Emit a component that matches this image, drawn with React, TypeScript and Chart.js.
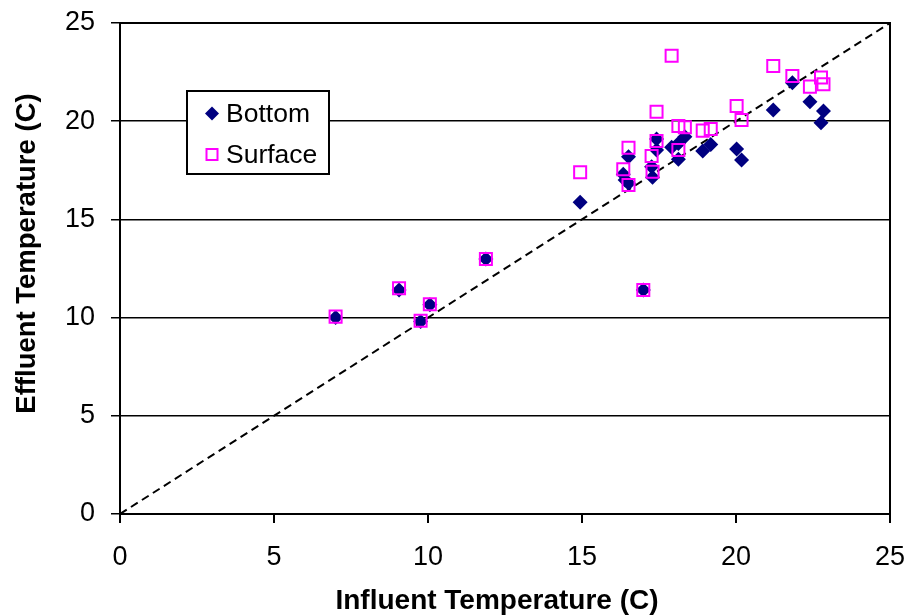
import React, { useEffect, useRef } from "react";
import { Chart, registerables } from "chart.js";

Chart.register(...registerables);

// Influent (x) and effluent (y) temperatures, deg C
const bottomX = [7.0, 9.06, 9.76, 10.06, 11.88, 14.94, 16.34, 16.4, 16.51, 16.51, 16.99, 17.26, 17.29, 17.42, 17.42, 17.91, 18.13, 18.13, 18.34, 18.92, 19.18, 20.02, 20.18, 21.21, 21.83, 22.4, 22.76, 22.84];
const bottomY = [10.0, 11.4, 9.8, 10.65, 12.98, 15.87, 17.3, 17.0, 18.19, 16.84, 11.41, 17.68, 17.14, 19.1, 18.53, 18.67, 18.87, 18.06, 19.21, 18.48, 18.82, 18.58, 18.02, 20.57, 21.96, 20.99, 19.92, 20.52];
const surfaceX = [7.0, 9.06, 9.76, 10.06, 11.88, 14.94, 16.34, 16.51, 16.51, 16.99, 17.26, 17.29, 17.42, 17.42, 17.91, 18.13, 18.13, 18.34, 18.92, 19.18, 20.02, 20.18, 21.21, 21.83, 22.4, 22.76, 22.84];
const surfaceY = [10.05, 11.49, 9.84, 10.68, 12.98, 17.4, 17.55, 18.65, 16.75, 11.41, 18.23, 17.43, 20.48, 18.99, 23.33, 19.76, 18.53, 19.69, 19.52, 19.6, 20.77, 20.06, 22.81, 22.3, 21.76, 22.22, 21.88];
const lineX = [0, 25];
const lineY = [0, 25];
const axisMin = 0;
const axisMax = 25;
const axisStep = 5;
const seriesNames = ["Bottom", "Surface"];
const xTitle = "Influent Temperature (C)";
const yTitle = "Effluent Temperature (C)";

const FONT = "'Liberation Sans', Arial, sans-serif";
const NAVY = "#000080";
const MAGENTA = "#FF00FF";

const toPoints = (xs: number[], ys: number[]) => xs.map((x, i) => ({ x, y: ys[i] }));

const framePlugin = {
  id: "frame",
  beforeDatasetsDraw(chart: any) {
    const { ctx, chartArea } = chart;
    ctx.save();
    ctx.strokeStyle = "#000";
    ctx.lineWidth = 2;
    ctx.strokeRect(chartArea.left, chartArea.top, chartArea.right - chartArea.left, chartArea.bottom - chartArea.top);
    ctx.restore();
  },
};

const titlesPlugin = {
  id: "axisTitles",
  afterDraw(chart: any) {
    const { ctx, chartArea } = chart;
    ctx.save();
    ctx.fillStyle = "#000";
    ctx.textAlign = "center";
    ctx.textBaseline = "middle";
    ctx.font = `bold 28px ${FONT}`;
    ctx.fillText(xTitle, (chartArea.left + chartArea.right) / 2 - 8, chartArea.bottom + 87);
    ctx.translate(26, (chartArea.top + chartArea.bottom) / 2 - 15);
    ctx.rotate(-Math.PI / 2);
    ctx.font = `bold 27.5px ${FONT}`;
    ctx.fillText(yTitle, 0, 1);
    ctx.restore();
  },
};

const legendPlugin = {
  id: "boxLegend",
  afterDraw(chart: any) {
    const { ctx, chartArea } = chart;
    const left = chartArea.left + 67;
    const top = chartArea.top + 68;
    const w = 142;
    const h = 83;
    ctx.save();
    ctx.fillStyle = "#fff";
    ctx.fillRect(left, top, w, h);
    ctx.strokeStyle = "#000";
    ctx.lineWidth = 2;
    ctx.strokeRect(left, top, w, h);
    const mx = left + 25;
    const tx = left + 39;
    const y1 = top + 22.5;
    const y2 = top + 63.5;
    // diamond
    ctx.fillStyle = NAVY;
    ctx.beginPath();
    ctx.moveTo(mx, y1 - 7);
    ctx.lineTo(mx + 7, y1);
    ctx.lineTo(mx, y1 + 7);
    ctx.lineTo(mx - 7, y1);
    ctx.closePath();
    ctx.fill();
    // square
    ctx.strokeStyle = MAGENTA;
    ctx.lineWidth = 2;
    ctx.strokeRect(mx - 5.5, y2 - 5.5, 11, 11);
    ctx.fillStyle = "#000";
    ctx.font = `26.5px ${FONT}`;
    ctx.textBaseline = "middle";
    ctx.textAlign = "left";
    ctx.fillText(seriesNames[0], tx, y1 + 1);
    ctx.fillText(seriesNames[1], tx, y2 + 1);
    ctx.restore();
  },
};

export default function App() {
  const ref = useRef<HTMLCanvasElement | null>(null);

  useEffect(() => {
    if (!ref.current) return;
    const chart = new Chart(ref.current, {
      type: "scatter",
      data: {
        datasets: [
          {
            label: seriesNames[0],
            data: toPoints(bottomX, bottomY),
            pointStyle: "rectRot",
            pointRadius: 7.5,
            pointHoverRadius: 7.5,
            backgroundColor: NAVY,
            borderColor: NAVY,
            borderWidth: 0,
            order: 2,
          },
          {
            label: seriesNames[1],
            data: toPoints(surfaceX, surfaceY),
            pointStyle: "rect",
            pointRadius: 8.5,
            pointHoverRadius: 8.5,
            backgroundColor: "rgba(0,0,0,0)",
            borderColor: MAGENTA,
            borderWidth: 2,
            order: 1,
          },
          {
            type: "line",
            label: "1:1",
            data: toPoints(lineX, lineY),
            borderColor: "#000",
            borderWidth: 2,
            borderDash: [8, 5],
            pointRadius: 0,
            fill: false,
            showLine: true,
            order: 3,
          } as any,
        ],
      },
      options: {
        animation: false,
        responsive: true,
        maintainAspectRatio: false,
        layout: { padding: { top: 23, right: 31, left: 0, bottom: 0 } },
        plugins: {
          legend: { display: false },
          tooltip: { enabled: false },
        },
        scales: {
          x: {
            type: "linear",
            min: axisMin,
            max: axisMax,
            afterFit: (s: any) => {
              s.height = 102;
              s.paddingLeft = 0;
              s.paddingRight = 0;
            },
            ticks: {
              stepSize: axisStep,
              color: "#000",
              font: { family: FONT, size: 27 },
              padding: 18,
              maxRotation: 0,
            },
            grid: {
              drawOnChartArea: false,
              drawTicks: true,
              tickLength: 9,
              color: "#000",
              lineWidth: 2,
            },
            border: { display: true, color: "#000", width: 2 },
            title: { display: false },
          },
          y: {
            type: "linear",
            min: axisMin,
            max: axisMax,
            afterFit: (s: any) => {
              s.width = 120;
              s.paddingTop = 0;
              s.paddingBottom = 0;
            },
            ticks: {
              stepSize: axisStep,
              color: "#000",
              font: { family: FONT, size: 27 },
              padding: 16,
            },
            grid: {
              drawOnChartArea: true,
              drawTicks: true,
              tickLength: 9,
              color: "#000",
              lineWidth: 1.5,
            },
            border: { display: true, color: "#000", width: 2 },
            title: { display: false },
          },
        },
      },
      plugins: [framePlugin, legendPlugin, titlesPlugin],
    });
    return () => chart.destroy();
  }, []);

  return (
    <div style={{ position: "fixed", left: 0, top: 0, width: 921, height: 616, background: "#fff" }}>
      <canvas ref={ref} />
    </div>
  );
}
